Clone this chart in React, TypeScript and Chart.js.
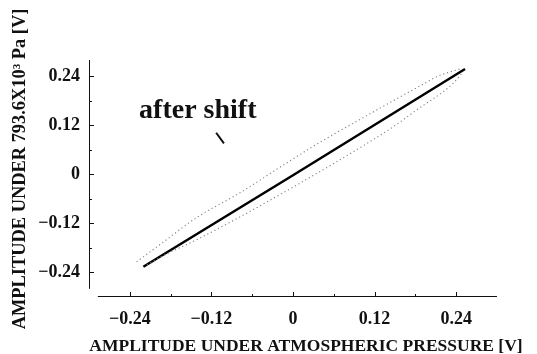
import { useEffect, useRef } from "react";
import { Chart, registerables } from "chart.js";

Chart.register(...registerables);

// Axis ticks and labels
const xTickValues = [-0.24, -0.12, 0, 0.12, 0.24];
const xTickLabels = ["\u22120.24", "\u22120.12", "0", "0.12", "0.24"];
const yTickValues = [-0.24, -0.12, 0, 0.12, 0.24];
const yTickLabels = ["\u22120.24", "\u22120.12", "0", "0.12", "0.24"];
const minorTickValues = [-0.18, -0.06, 0.06, 0.18];

// Signal after the shift (solid line)
const shiftedX = [-0.22, 0.0, 0.253];
const shiftedY = [-0.226, -0.002, 0.258];

// Hysteresis loop before the shift, upper branch (dotted)
const upperX = [-0.23, -0.191, -0.142, -0.078, -0.015, 0.035, 0.099, 0.147, 0.197, 0.211, 0.245];
const upperY = [-0.214, -0.166, -0.106, -0.045, 0.022, 0.074, 0.135, 0.18, 0.226, 0.239, 0.258];

// Hysteresis loop before the shift, lower branch (dotted)
const lowerX = [-0.215, -0.191, -0.142, -0.088, -0.004, 0.059, 0.108, 0.147, 0.182, 0.233, 0.25];
const lowerY = [-0.222, -0.199, -0.16, -0.113, -0.035, 0.026, 0.075, 0.116, 0.158, 0.219, 0.25];

// Annotation
const noteText = "after shift";
const noteAt = { x: -0.14, y: 0.138 };
const arrowFrom = { x: -0.113, y: 0.102 };
const arrowTo = { x: -0.1016, y: 0.076 };

const xTitle = "AMPLITUDE UNDER ATMOSPHERIC PRESSURE [V]";
const yTitle = "AMPLITUDE UNDER 793.6X10\u00B3 Pa [V]";

const SERIF = '"Liberation Serif", "Times New Roman", serif';

const toPoints = (xs: number[], ys: number[]) => xs.map((x, i) => ({ x, y: ys[i] }));

const axesPlugin = {
  id: "paperAxes",
  afterDraw(chart: any) {
    const { ctx } = chart;
    const xs = chart.scales.x;
    const ys = chart.scales.y;
    const x0 = xs.getPixelForValue(-0.3);
    const y0 = ys.getPixelForValue(-0.3);
    ctx.save();
    ctx.strokeStyle = "#111";
    ctx.lineWidth = 1;
    ctx.beginPath();
    // vertical axis
    ctx.moveTo(x0 + 0.5, ys.getPixelForValue(0.28));
    ctx.lineTo(x0 + 0.5, ys.getPixelForValue(-0.28));
    // horizontal axis
    ctx.moveTo(xs.getPixelForValue(-0.287), y0 - 0.5);
    ctx.lineTo(xs.getPixelForValue(0.3), y0 - 0.5);
    // inward tick marks
    xTickValues.forEach((v) => {
      const px = Math.round(xs.getPixelForValue(v)) + 0.5;
      ctx.moveTo(px, y0);
      ctx.lineTo(px, y0 - 5);
    });
    minorTickValues.forEach((v) => {
      const px = Math.round(xs.getPixelForValue(v)) + 0.5;
      ctx.moveTo(px, y0);
      ctx.lineTo(px, y0 - 3);
    });
    yTickValues.forEach((v) => {
      const py = Math.round(ys.getPixelForValue(v)) + 0.5;
      ctx.moveTo(x0, py);
      ctx.lineTo(x0 + 5, py);
    });
    minorTickValues.forEach((v) => {
      const py = Math.round(ys.getPixelForValue(v)) + 0.5;
      ctx.moveTo(x0, py);
      ctx.lineTo(x0 + 3, py);
    });
    ctx.stroke();

    // axis titles
    ctx.fillStyle = "#111";
    ctx.textAlign = "center";
    ctx.textBaseline = "middle";
    ctx.font = `bold 17.5px ${SERIF}`;
    ctx.fillText(xTitle, 306, 346);
    ctx.save();
    ctx.translate(20, 169);
    ctx.rotate(-Math.PI / 2);
    ctx.font = `bold 18.4px ${SERIF}`;
    ctx.fillText(yTitle, 0, 0);
    ctx.restore();

    // annotation and its pointer
    ctx.font = `bold 28px ${SERIF}`;
    ctx.textBaseline = "alphabetic";
    ctx.fillText(noteText, xs.getPixelForValue(noteAt.x), ys.getPixelForValue(noteAt.y));
    ctx.lineWidth = 2;
    ctx.beginPath();
    ctx.moveTo(xs.getPixelForValue(arrowFrom.x), ys.getPixelForValue(arrowFrom.y));
    ctx.lineTo(xs.getPixelForValue(arrowTo.x), ys.getPixelForValue(arrowTo.y));
    ctx.stroke();
    ctx.restore();
  },
};

export default function App() {
  const canvasRef = useRef<HTMLCanvasElement | null>(null);

  useEffect(() => {
    if (!canvasRef.current) return;
    const tickFont = { family: SERIF, size: 18, weight: "bold" as const };
    const loopStyle = {
      showLine: true,
      borderColor: "#808080",
      borderWidth: 1.1,
      borderDash: [1.2, 2.8],
      pointRadius: 0,
      cubicInterpolationMode: "monotone" as const,
    };
    const chart = new Chart(canvasRef.current, {
      type: "scatter",
      data: {
        datasets: [
          { data: toPoints(upperX, upperY), ...loopStyle },
          { data: toPoints(lowerX, lowerY), ...loopStyle },
          {
            data: toPoints(shiftedX, shiftedY),
            showLine: true,
            borderColor: "#000",
            borderWidth: 2.5,
            pointRadius: 0,
            tension: 0,
          },
        ],
      },
      options: {
        animation: false,
        responsive: true,
        maintainAspectRatio: false,
        layout: { padding: { top: 60, right: 40, left: 0, bottom: 0 } },
        plugins: { legend: { display: false }, tooltip: { enabled: false } },
        scales: {
          x: {
            type: "linear",
            min: -0.3,
            max: 0.3,
            grid: { display: false },
            border: { display: false },
            afterBuildTicks: (s: any) => {
              s.ticks = xTickValues.map((value) => ({ value }));
            },
            afterFit: (s: any) => {
              s.height = 57;
            },
            ticks: {
              maxRotation: 0,
              autoSkip: false,
              padding: 4,
              color: "#111",
              font: tickFont,
              callback: (_v: any, i: number) => xTickLabels[i],
            },
          },
          y: {
            type: "linear",
            min: -0.3,
            max: 0.28,
            grid: { display: false },
            border: { display: false },
            afterBuildTicks: (s: any) => {
              s.ticks = yTickValues.map((value) => ({ value }));
            },
            afterFit: (s: any) => {
              s.width = 89;
            },
            ticks: {
              autoSkip: false,
              padding: 1,
              color: "#111",
              font: tickFont,
              callback: (_v: any, i: number) => yTickLabels[i],
            },
          },
        },
      },
      plugins: [axesPlugin],
    });
    return () => chart.destroy();
  }, []);

  return (
    <div style={{ position: "absolute", left: 0, top: 0, width: 537, height: 354, background: "#fff" }}>
      <canvas ref={canvasRef} />
    </div>
  );
}
